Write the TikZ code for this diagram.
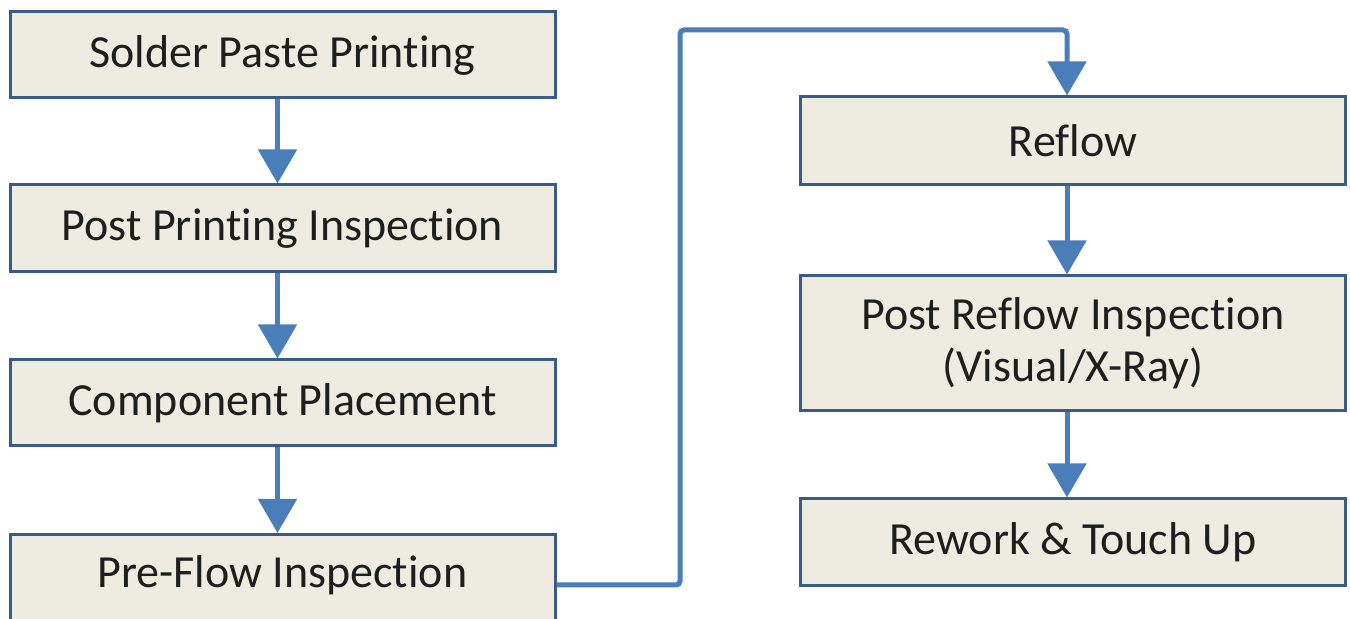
\documentclass[tikz,border=0pt]{standalone}
\usepackage{fontspec}
\setmainfont{Carlito}[Ligatures={NoCommon}]
\usetikzlibrary{arrows.meta}
\definecolor{boxfill}{HTML}{EEECE1}
\definecolor{boxline}{HTML}{3B5B87}
\definecolor{flowblue}{HTML}{4A7EBB}
\definecolor{txt}{HTML}{1E1E1E}
\tikzset{
  stepbox/.style={draw=boxline, fill=boxfill, line width=1.5pt, inner sep=0pt,
    minimum width=272.5pt, text=txt, align=center,
    font=\fontsize{23}{26}\selectfont},
  flow/.style={draw=flowblue, line width=2.5pt,
    -{Triangle[length=17pt,width=19pt,fill=flowblue]}},
  link/.style={draw=flowblue, line width=2.5pt, rounded corners=2pt,
    -{Triangle[length=17pt,width=19pt,fill=flowblue]}}
}
\begin{document}
\begin{tikzpicture}[x=0.5pt,y=-0.5pt]
\useasboundingbox (0,0) rectangle (1350,619);
% left column
\node[stepbox, minimum height=43pt] (b1) at (282.5,55) {Solder Paste Printing};
\node[stepbox, minimum height=43.5pt] (b2) at (282.5,228.5) {Post Printing Inspection};
\node[stepbox, minimum height=43pt] (b3) at (282.5,403) {Component Placement};
\node[stepbox, minimum height=44pt, anchor=north] (b4) at (282.5,533) {};
\node[text=txt, font=\fontsize{23}{26}\selectfont] (t4) at (282.5,575) {Pre-Flow Inspection};
% right column
\node[stepbox, minimum height=44pt] (b5) at (1073,141) {Reflow};
\node[stepbox, minimum height=67.5pt] (b6) at (1073,343.5) {Post Reflow Inspection\\(Visual/X-Ray)};
\node[stepbox, minimum height=43.5pt] (b7) at (1073,542.5) {Rework \& Touch Up};
% connectors
\draw[flow] ([xshift=-2.5pt]b1.south) -- ([xshift=-2.5pt]b2.north);
\draw[flow] ([xshift=-2.5pt]b2.south) -- ([xshift=-2.5pt]b3.north);
\draw[flow] ([xshift=-2.5pt]b3.south) -- ([xshift=-2.5pt]b4.north);
\coordinate (turn1) at (680,585);
\coordinate (turn2) at (1067,30);
\draw[link] (b4.east |- turn1) -- (turn1) |- (turn2) -- (turn2 |- b5.north);
\draw[flow] ([xshift=-3pt]b5.south) -- ([xshift=-3pt]b6.north);
\draw[flow] ([xshift=-3pt]b6.south) -- ([xshift=-3pt]b7.north);
\end{tikzpicture}
\end{document}
